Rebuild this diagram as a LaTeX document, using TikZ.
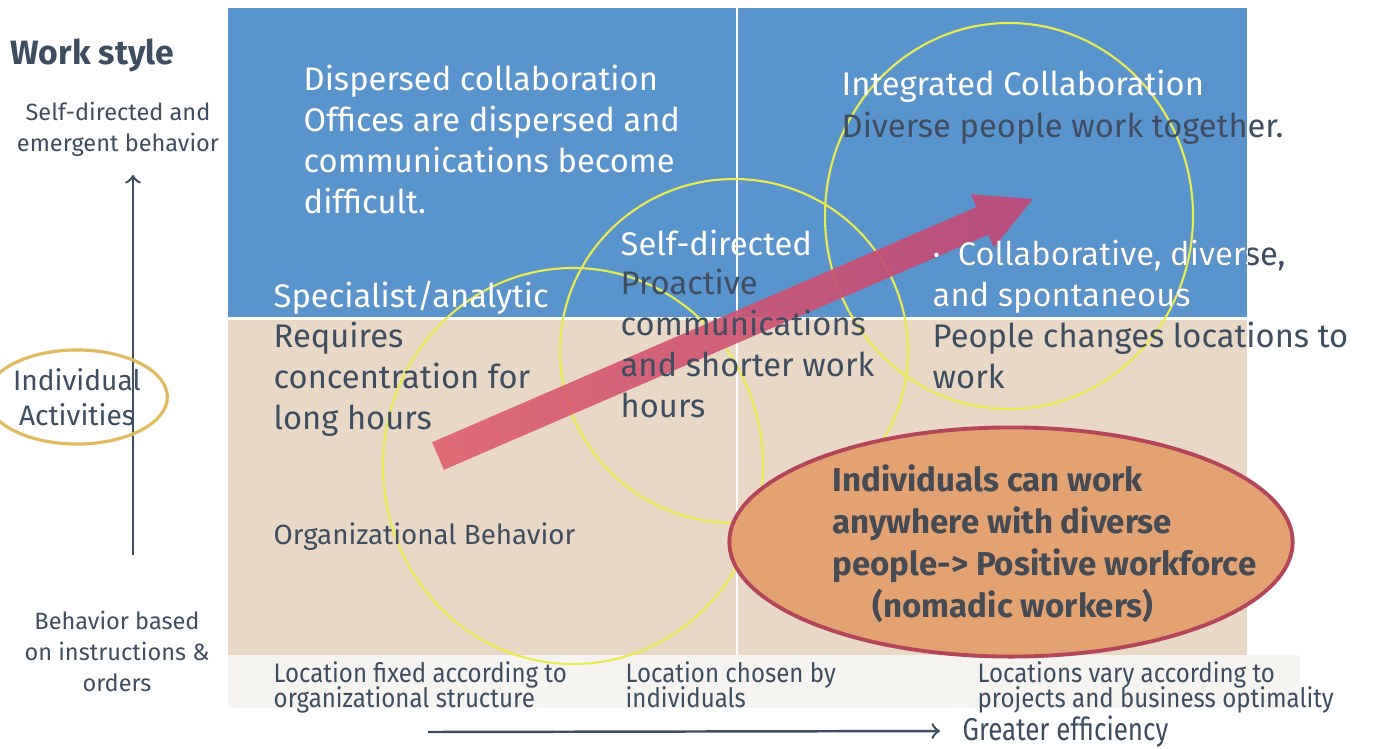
\documentclass[tikz,border=0pt]{standalone}
\usepackage{fontspec}
\setmainfont{Fira Sans}
\newfontfamily\narrowfont{Fira Sans}[FakeStretch=0.82]
\newfontfamily\footfont{Fira Sans}[FakeStretch=0.9]
\usepackage{xcolor}
\usetikzlibrary{arrows,positioning,shapes.geometric}

\definecolor{skyblue}{RGB}{90,148,205}
\definecolor{sand}{RGB}{234,216,198}
\definecolor{paper}{RGB}{246,244,240}
\definecolor{slate}{RGB}{62,78,96}
\definecolor{ink}{RGB}{70,74,82}
\definecolor{ringline}{RGB}{232,236,80}
\definecolor{gold}{RGB}{224,186,92}
\definecolor{tan}{RGB}{227,162,114}
\definecolor{crimson}{RGB}{180,70,90}
\definecolor{rosehead}{RGB}{190,72,120}
\definecolor{rosetail}{RGB}{222,98,110}

\newcommand{\tightlines}{\lineskiplimit=-20pt\relax}

\tikzset{
  big/.style={font=\fontsize{9.3}{11.6}\selectfont, anchor=base west, inner sep=0pt, align=left},
  light/.style={big, text=white},
  dark/.style={big, text=slate},
  side/.style={font=\fontsize{6.7}{8.8}\selectfont, text=slate, align=center, inner sep=0pt, anchor=base},
  foot/.style={font=\footfont\fontsize{7.6}{6.9}\selectfont\tightlines, text=slate, align=left, inner sep=0pt, anchor=base west},
  ring/.style={draw=ringline, line width=0.6pt},
  axis/.style={draw=slate, line width=0.7pt, -to}
}

\begin{document}
\begin{tikzpicture}[x=0.01cm, y=-0.01cm]
  \useasboundingbox[fill=white] (0,0) rectangle (1384,748);
  \fill[paper] (228,655) rectangle (1300,708);
  \fill[skyblue] (228,8) rectangle (1247,317);
  \fill[sand] (228,320) rectangle (1247,655);
  \draw[white, line width=0.6pt] (737,8) -- (737,655);

  \draw[ring] (573,466) ellipse [x radius=190, y radius=198];
  \draw[ring] (734,351) ellipse [x radius=174, y radius=172];
  \draw[ring] (1009,216) ellipse [x radius=184, y radius=193];

  \begin{scope}[shift={(438,456)}, rotate=23.36]
    \shade[left color=rosetail, right color=rosehead, opacity=0.92]
      (0,-15) -- (593,-15) -- (593,-29) -- (648,0)
      -- (593,29) -- (593,15) -- (0,15) -- cycle;
  \end{scope}

  \node[font=\bfseries\fontsize{9.6}{12}\selectfont, text=slate, anchor=base west, inner sep=0pt] (workstyle) at (10,64) {Work style};
  \node[side] (selfdir) at (118,151) {Self-directed and\\emergent behavior};
  \node[side] (orders) at (117,691) {Behavior based\\on instructions \&\\orders};
  \coordinate (vbase) at (133,555);
  \coordinate (vtop) at (133,175);
  \draw[axis] (vbase) -- (vtop);
  \node[ellipse, draw=gold, line width=0.9pt, minimum width=1.5cm, minimum height=0.94cm,
        font=\fontsize{8}{10}\selectfont, text=slate, align=center, inner sep=0pt] (indiv) at (77,397) {Individual\\Activities};

  \node[light] (dispersed) at (303,213) {Dispersed collaboration\\Offices are dispersed and\\communications become\\difficult.};
  \node[light] (integrated) at (841,95) {Integrated Collaboration};
  \node[dark] (diverse) at (841,137) {Diverse people work together.};
  \node[light] (selfhead) at (620,255) {Self-directed};
  \node[dark] (proactive) at (620,417) {Proactive\\communications\\and shorter work\\hours};
  \node[light] (specialist) at (273,307) {Specialist/analytic};
  \node[dark] (requires) at (273,429) {Requires\\concentration for\\long hours};
  \node[dark] (collab) at (932,306) {\textperiodcentered\ \ Collaborative, diverse,\\and spontaneous};
  \begin{scope}
    \clip (228,8) rectangle (1247,317);
    \node[light] (collabblue) at (932,306) {\textperiodcentered\ \ Collaborative, diverse,\\and spontaneous};
  \end{scope}
  \node[dark] (people) at (932,388) {People changes locations to\\work};
  \node[dark, font=\fontsize{7.9}{10}\selectfont] (orgbeh) at (273,544) {Organizational Behavior};

  \node[ellipse, fill=tan, draw=crimson, line width=1.1pt, minimum width=5.63cm, minimum height=2.29cm] (nomad) at (1011,542) {};
  \node[font=\bfseries\fontsize{9.4}{11.9}\selectfont, text=ink, anchor=base west, inner sep=0pt, align=left] (nomadtext) at (832,617)
    {Individuals can work\\anywhere with diverse\\people-> Positive workforce\\\hspace*{0.4cm}(nomadic workers)};

  \node[foot] (fixed) at (273,707) {Location fixed according to\\organizational structure};
  \node[foot] (chosen) at (625,707) {Location chosen by\\individuals};
  \node[foot] (vary) at (977,707) {Locations vary according to\\projects and business optimality};

  \coordinate (effstart) at (428,732);
  \node[font=\narrowfont\fontsize{9}{10}\selectfont, text=slate, anchor=base west, inner xsep=0.22cm, inner ysep=0pt] (eff) at (940,740) {Greater efficiency};
  \draw[axis] (effstart) -- (eff.west);
\end{tikzpicture}
\end{document}
